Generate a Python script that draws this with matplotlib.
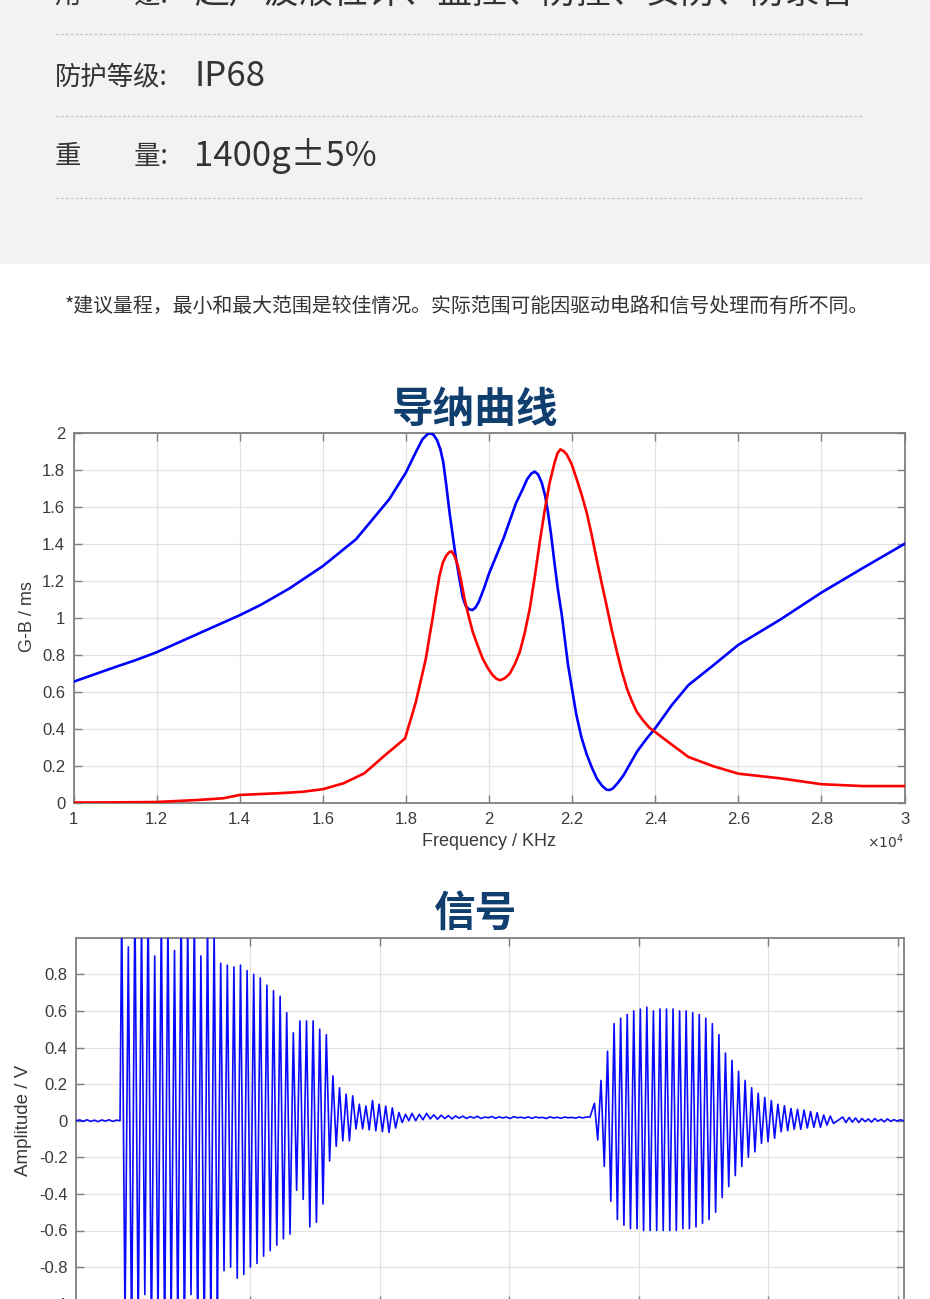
import numpy as np
import matplotlib
matplotlib.use('Agg')
import matplotlib.pyplot as plt
from matplotlib.patches import Rectangle
from matplotlib.lines import Line2D
from matplotlib.ticker import FuncFormatter, FixedLocator

W, H = 930, 1299
CJK = ['Noto Sans CJK SC', 'DejaVu Sans']
LAT = ['Liberation Sans', 'DejaVu Sans']

# ---------------- data ----------------
spec_labels = ['用　　途:', '防护等级:', '重　　量:']
spec_values = ['超声波液位计、监控、防撞、安防、防录音', 'IP68', '1400g±5%']
note_text = '*建议量程，最小和最大范围是较佳情况。实际范围可能因驱动电路和信号处理而有所不同。'
title1 = '导纳曲线'
title2 = '信号'

# admittance curves, frequency in units of 10^4 (Hz), values in ms
b_freq = [1.00, 1.10, 1.15, 1.20, 1.30, 1.40, 1.45, 1.52, 1.60, 1.68, 1.76, 1.80,
          1.825, 1.84, 1.855, 1.866, 1.875, 1.883, 1.89, 1.897, 1.905, 1.913, 1.92,
          1.928, 1.937, 1.944, 1.952, 1.96, 1.967, 1.975, 1.988, 2.00, 2.035, 2.065,
          2.08, 2.092, 2.102, 2.11, 2.118, 2.127, 2.135, 2.142, 2.15, 2.158, 2.166,
          2.175, 2.19, 2.21, 2.222, 2.235, 2.248, 2.26, 2.272, 2.283, 2.291, 2.298,
          2.31, 2.324, 2.34, 2.356, 2.378, 2.40, 2.44, 2.48, 2.54, 2.60, 2.70, 2.80,
          2.90, 3.00]
b_val = [0.656, 0.735, 0.773, 0.815, 0.915, 1.015, 1.07, 1.16, 1.28, 1.425, 1.641, 1.785,
         1.90, 1.965, 1.998, 1.99, 1.96, 1.91, 1.84, 1.72, 1.57, 1.44, 1.33,
         1.22, 1.11, 1.065, 1.047, 1.043, 1.055, 1.085, 1.16, 1.24, 1.43, 1.62,
         1.69, 1.75, 1.78, 1.79, 1.775, 1.73, 1.66, 1.57, 1.44, 1.29, 1.15,
         1.02, 0.75, 0.48, 0.36, 0.265, 0.19, 0.132, 0.095, 0.073, 0.072, 0.08,
         0.11, 0.152, 0.215, 0.278, 0.345, 0.405, 0.53, 0.638, 0.745, 0.855, 0.99, 1.137,
         1.27, 1.40]

g_freq = [1.00, 1.10, 1.20, 1.30, 1.36, 1.40, 1.45, 1.50, 1.55, 1.60, 1.65, 1.70,
          1.75, 1.798, 1.824, 1.848, 1.856, 1.864, 1.872, 1.881, 1.889, 1.897, 1.904,
          1.91, 1.917, 1.925, 1.933, 1.941, 1.951, 1.961, 1.973, 1.985, 1.997, 2.009,
          2.018, 2.027, 2.038, 2.05, 2.062, 2.074, 2.086, 2.098, 2.11, 2.122, 2.134,
          2.146, 2.158, 2.165, 2.172, 2.18, 2.187, 2.199, 2.211, 2.223, 2.235, 2.247,
          2.259, 2.271, 2.283, 2.295, 2.308, 2.32, 2.332, 2.344, 2.356, 2.37, 2.385,
          2.40, 2.42, 2.45, 2.48, 2.54, 2.60, 2.70, 2.80, 2.90, 3.00]
g_val = [0.004, 0.005, 0.007, 0.018, 0.027, 0.045, 0.05, 0.055, 0.062, 0.076, 0.108, 0.162,
         0.26, 0.35, 0.547, 0.78, 0.89, 0.995, 1.11, 1.229, 1.30, 1.336, 1.355,
         1.36, 1.335, 1.283, 1.20, 1.103, 1.01, 0.924, 0.85, 0.78, 0.73, 0.691,
         0.672, 0.664, 0.675, 0.70, 0.75, 0.816, 0.92, 1.049, 1.22, 1.408, 1.58,
         1.731, 1.84, 1.89, 1.91, 1.90, 1.883, 1.83, 1.749, 1.665, 1.57, 1.45,
         1.318, 1.19, 1.067, 0.94, 0.816, 0.71, 0.619, 0.55, 0.493, 0.45, 0.41,
         0.385, 0.35, 0.30, 0.25, 0.20, 0.16, 0.135, 0.103, 0.093, 0.093]

# received signal: extremes, segment by segment
sig_q1_span = (0.656, 0.996)
sig_q1 = [0.0, 0.004, -0.003, 0.005, -0.004, 0.003, -0.005, 0.004, -0.002, 0.005,
          -0.004, 0.003, 0.0]

sig_b1_span = (1.009, 3.226)
sig_b1_tops = [1.15, 0.95, 1.2, 1.1, 1.2, 0.9, 1.15, 1.1, 0.93, 1.2, 1.1, 1.15, 0.9,
               1.1, 1.05, 0.86, 0.85, 0.84, 0.85, 0.82, 0.80, 0.78, 0.74, 0.71, 0.68,
               0.59, 0.48, 0.545, 0.545, 0.545, 0.50, 0.47, 0.245, 0.18, 0.145, 0.136,
               0.09, 0.08, 0.11, 0.09, 0.08, 0.07, 0.045, 0.035]
sig_b1_bottoms = [-1.1, -1.2, -1.15, -0.95, -1.2, -1.1, -1.2, -1.05, -1.15, -1.2, -0.95,
                  -1.15, -1.2, -1.1, -1.05, -0.82, -0.80, -0.86, -0.84, -0.80, -0.78,
                  -0.74, -0.71, -0.68, -0.645, -0.62, -0.38, -0.43, -0.58, -0.555,
                  -0.455, -0.22, -0.14, -0.11, -0.11, -0.045, -0.045, -0.05, -0.055,
                  -0.06, -0.064, -0.04, -0.01, 0.0]

sig_q2_span = (3.251, 4.625)
sig_q2 = [0.04, 0.0, 0.035, 0.005, 0.04, 0.01, 0.032, 0.008, 0.03, 0.012, 0.028, 0.01,
          0.026, 0.014, 0.025, 0.012, 0.022, 0.015, 0.024, 0.012, 0.02, 0.016, 0.023,
          0.013, 0.021, 0.015, 0.02, 0.012, 0.022, 0.016, 0.019, 0.014, 0.021, 0.013,
          0.02, 0.016, 0.018, 0.012, 0.021, 0.015, 0.019, 0.013, 0.02, 0.016, 0.018,
          0.014, 0.02, 0.015, 0.02, 0.02]

sig_b2_span = (4.6595, 6.5057)
sig_b2_pre = [0.095, -0.105]
sig_b2_tops = [0.22, 0.38, 0.53, 0.56, 0.58, 0.60, 0.61, 0.62, 0.60, 0.61, 0.61, 0.61,
               0.60, 0.60, 0.59, 0.58, 0.56, 0.53, 0.47, 0.37, 0.33, 0.27, 0.22, 0.18,
               0.15, 0.127, 0.11, 0.09, 0.082, 0.067, 0.062, 0.058, 0.05, 0.044, 0.031,
               0.025]
sig_b2_bottoms = [-0.25, -0.44, -0.54, -0.57, -0.59, -0.59, -0.60, -0.60, -0.60, -0.60,
                  -0.60, -0.60, -0.59, -0.59, -0.58, -0.56, -0.54, -0.50, -0.42, -0.36,
                  -0.30, -0.25, -0.20, -0.17, -0.124, -0.115, -0.096, -0.06, -0.055,
                  -0.047, -0.047, -0.04, -0.036, -0.036, -0.024, -0.015]

sig_q3_span = (6.577, 7.046)
sig_q3 = [0.02, -0.01, 0.018, -0.008, 0.015, -0.01, 0.012, -0.005, 0.01, -0.008, 0.012,
          -0.003, 0.008, -0.006, 0.01, -0.004, 0.006, -0.002, 0.005, 0.0]

gb_xticks = [1.0, 1.2, 1.4, 1.6, 1.8, 2.0, 2.2, 2.4, 2.6, 2.8, 3.0]
gb_yticks = [0, 0.2, 0.4, 0.6, 0.8, 1.0, 1.2, 1.4, 1.6, 1.8, 2.0]
sig_xticks = [2, 3, 4, 5, 6, 7]
sig_yticks = [-1.0, -0.8, -0.6, -0.4, -0.2, 0.0, 0.2, 0.4, 0.6, 0.8]


def interleave(a, b):
    out = []
    for x, y in zip(a, b):
        out += [x, y]
    return out


segments = [
    (sig_q1_span, sig_q1),
    (sig_b1_span, interleave(sig_b1_tops, sig_b1_bottoms)),
    (sig_q2_span, sig_q2),
    (sig_b2_span, sig_b2_pre + interleave(sig_b2_tops, sig_b2_bottoms)),
    (sig_q3_span, sig_q3),
]
sig_t = np.concatenate([np.linspace(s[0], s[1], len(v)) for s, v in segments])
sig_v = np.concatenate([np.asarray(v, float) for s, v in segments])

# ---------------- layout helpers ----------------
def fx(px):
    return px / W


def fy(py):
    return 1 - py / H


fig = plt.figure(figsize=(W / 100, H / 100), dpi=100)
fig.patch.set_facecolor('white')

# grey spec panel
fig.patches.append(Rectangle((0, fy(264)), 1, 264 / H, transform=fig.transFigure,
                             facecolor='#f2f2f2', edgecolor='none', zorder=0))
for py in [34, 116, 198]:
    fig.lines.append(Line2D([fx(56), fx(862)], [fy(py), fy(py)], transform=fig.transFigure,
                            color='#c4c4c4', lw=0.9, linestyle=(0, (2.2, 1.6))))

label_y = [-4, 78, 157]
value_y = [-7, 77, 156]
for lab, val, ly, vy in zip(spec_labels, spec_values, label_y, value_y):
    fig.text(fx(55), fy(ly), lab, family=CJK, fontsize=19, color='#333333',
             ha='left', va='center')
    fig.text(fx(194), fy(vy), val, family=CJK, fontsize=25, color='#333333',
             ha='left', va='center')

fig.text(fx(466.5), fy(306), note_text, family=CJK, fontsize=14.35, color='#333333',
         ha='center', va='center')

TITLE_C = '#0f3e6f'
fig.text(fx(475), fy(410), title1, family=CJK, fontsize=30, fontweight='bold',
         color=TITLE_C, ha='center', va='center')
fig.text(fx(476), fy(914), title2, family=CJK, fontsize=30, fontweight='bold',
         color=TITLE_C, ha='center', va='center')

fmt = FuncFormatter(lambda v, p: f'{v:g}')
SPINE_C = '#7f7f7f'
LABEL_C = '#3a3a3a'


def style_axes(ax):
    for s in ax.spines.values():
        s.set_color(SPINE_C)
        s.set_linewidth(1.3)
    ax.tick_params(direction='in', length=6, width=1.0, color=SPINE_C,
                   top=True, right=True, labelsize=12, labelcolor=LABEL_C, pad=6)
    ax.grid(True, color='#e2e2e2', lw=0.9)
    ax.set_axisbelow(True)
    ax.xaxis.set_major_formatter(fmt)
    ax.yaxis.set_major_formatter(fmt)


# ---------------- admittance plot ----------------
ax1 = fig.add_axes([fx(73.5), fy(803.3), (904.5 - 73.5) / W, (803.3 - 432.7) / H])
ax1.plot(b_freq, b_val, color='#0000ff', lw=1.9, zorder=3, solid_joinstyle='round')
ax1.plot(g_freq, g_val, color='#ff0000', lw=1.9, zorder=3, solid_joinstyle='round')
ax1.set_xlim(1, 3)
ax1.set_ylim(0, 2)
ax1.xaxis.set_major_locator(FixedLocator(gb_xticks))
ax1.yaxis.set_major_locator(FixedLocator(gb_yticks))
style_axes(ax1)
for lbl in ax1.get_xticklabels() + ax1.get_yticklabels():
    lbl.set_family(LAT)

fig.text(fx(27), fy(617), 'G-B / ms', family=LAT, fontsize=13, color=LABEL_C,
         rotation=90, ha='center', va='center')
fig.text(fx(489), fy(842), 'Frequency / KHz', family=LAT, fontsize=13, color=LABEL_C,
         ha='center', va='center')
fig.text(fx(885), fy(842), r'$\times10^{4}$', fontsize=10, color=LABEL_C,
         ha='center', va='center')

# ---------------- signal plot ----------------
ax2 = fig.add_axes([fx(76), fy(1303.7), (903.5 - 76) / W, (1303.7 - 937.7) / H])
ax2.plot(sig_t, sig_v, color='#0a0aff', lw=1.2, zorder=3, solid_joinstyle='round')
ax2.set_xlim(0.656, 7.046)
ax2.set_ylim(-1, 1)
ax2.xaxis.set_major_locator(FixedLocator(sig_xticks))
ax2.yaxis.set_major_locator(FixedLocator(sig_yticks))
style_axes(ax2)
ax2.tick_params(axis='x', labelbottom=False)
for lbl in ax2.get_yticklabels():
    lbl.set_family(LAT)

fig.text(fx(24), fy(1120), 'Amplitude / V', family=LAT, fontsize=13.5, color=LABEL_C,
         rotation=90, ha='center', va='center')

fig.savefig('out.png', dpi=100, facecolor='white')
